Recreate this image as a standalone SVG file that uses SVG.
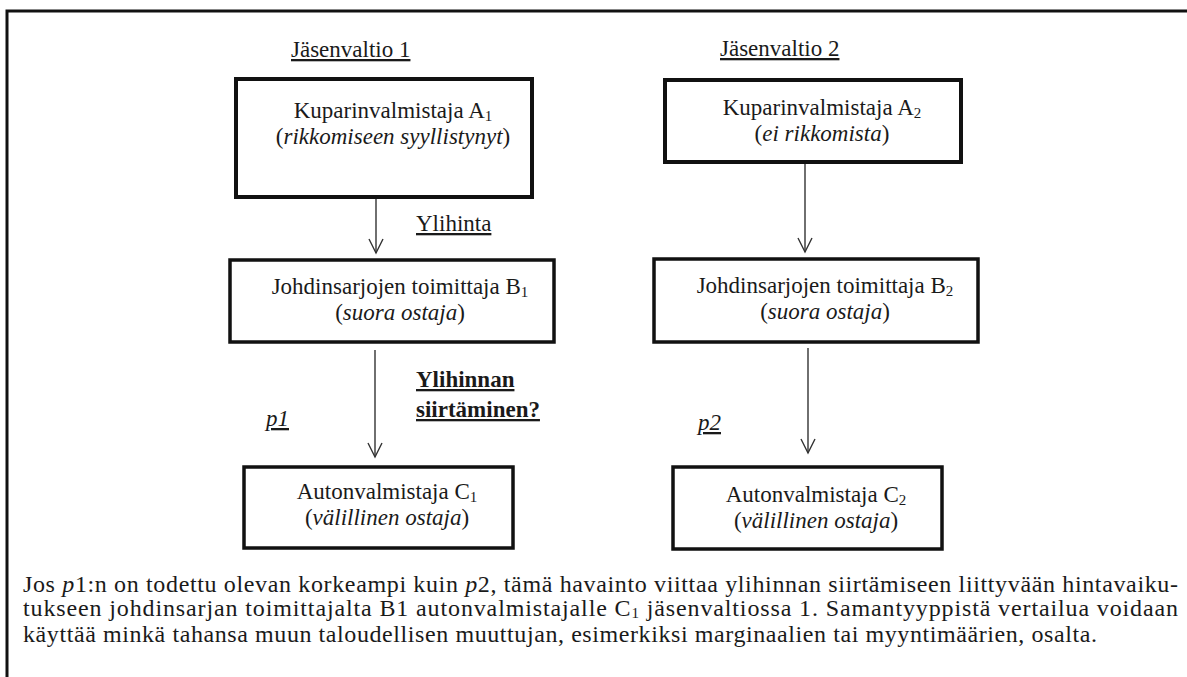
<svg xmlns="http://www.w3.org/2000/svg" width="1187" height="677" viewBox="0 0 1187 677" font-family="'Liberation Serif', 'DejaVu Serif', serif">
<defs>
<style>
text{font-family:'Liberation Serif','DejaVu Serif',serif;fill:#1a1a1a;font-size:23px}
.c{text-anchor:middle}
.it{font-style:italic}
.u{text-decoration:underline}
.b{font-weight:bold}
.sub{font-size:15px}
.cap{font-size:24px}
.box{fill:#fff;stroke:#111;stroke-width:4}
.box2{fill:#fff;stroke:#111;stroke-width:3.5}
.frame{fill:none;stroke:#111;stroke-width:3}
.conn{stroke:#333;stroke-width:1.4;fill:none;marker-end:url(#arr)}
</style>
<marker id="arr" viewBox="-16 -9 18 18" refX="0" refY="0" markerWidth="18" markerHeight="18" markerUnits="userSpaceOnUse" orient="auto">
<path d="M-14,-7 L0,0 L-14,7" fill="none" stroke="#333" stroke-width="1.4"/>
</marker>
</defs>
<rect class="frame" x="7" y="11" width="1200" height="700"/>

<text class="u" x="291" y="57">Jäsenvaltio 1</text>
<text class="u" x="720" y="56">Jäsenvaltio 2</text>

<g id="connectors">
<line class="conn" x1="376" y1="163" x2="376" y2="253"/>
<line class="conn" x1="805" y1="163" x2="805" y2="252"/>
<line class="conn" x1="375" y1="350" x2="375" y2="457"/>
<line class="conn" x1="808" y1="348" x2="808" y2="453"/>
</g>

<g id="nodeA1">
<rect class="box" x="236" y="79" width="296" height="118"/>
<text class="c" x="393" y="118">Kuparinvalmistaja A<tspan class="sub" dy="3">1</tspan></text>
<text class="c" x="393" y="144">(<tspan class="it">rikkomiseen syyllistynyt</tspan>)</text>
</g>
<g id="nodeA2">
<rect class="box" x="665" y="80" width="296" height="82"/>
<text class="c" x="822" y="115">Kuparinvalmistaja A<tspan class="sub" dy="3">2</tspan></text>
<text class="c" x="822" y="141">(<tspan class="it">ei rikkomista</tspan>)</text>
</g>
<g id="nodeB1">
<rect class="box2" x="230" y="260" width="324" height="82"/>
<text class="c" x="400" y="294">Johdinsarjojen toimittaja B<tspan class="sub" dy="3">1</tspan></text>
<text class="c" x="400" y="320">(<tspan class="it">suora ostaja</tspan>)</text>
</g>
<g id="nodeB2">
<rect class="box2" x="654" y="259" width="324" height="83"/>
<text class="c" x="825" y="293">Johdinsarjojen toimittaja B<tspan class="sub" dy="3">2</tspan></text>
<text class="c" x="825" y="319">(<tspan class="it">suora ostaja</tspan>)</text>
</g>
<g id="nodeC1">
<rect class="box2" x="244" y="467" width="269" height="81"/>
<text class="c" x="387" y="499">Autonvalmistaja C<tspan class="sub" dy="3">1</tspan></text>
<text class="c" x="387" y="525">(<tspan class="it">välillinen ostaja</tspan>)</text>
</g>
<g id="nodeC2">
<rect class="box2" x="673" y="467" width="269" height="82"/>
<text class="c" x="816" y="502">Autonvalmistaja C<tspan class="sub" dy="3">2</tspan></text>
<text class="c" x="816" y="528">(<tspan class="it">välillinen ostaja</tspan>)</text>
</g>

<g id="labels">
<text class="u" x="416" y="231">Ylihinta</text>
<text class="u b" x="416" y="387">Ylihinnan</text>
<text class="u b" x="416" y="417">siirtäminen?</text>
<text class="u it" x="266" y="426">p1</text>
<text class="u it" x="698" y="430">p2</text>
</g>

<g id="caption">
<text class="cap" x="23" y="592" textLength="1155" lengthAdjust="spacing">Jos <tspan class="it">p</tspan>1:n on todettu olevan korkeampi kuin <tspan class="it">p</tspan>2, tämä havainto viittaa ylihinnan siirtämiseen liittyvään hintavaiku-</text>
<text class="cap" x="23" y="616" textLength="1155" lengthAdjust="spacing">tukseen johdinsarjan toimittajalta B1 autonvalmistajalle C<tspan class="sub" dy="2">1</tspan><tspan dy="-2"> jäsenvaltiossa 1. Samantyyppistä vertailua voidaan</tspan></text>
<text class="cap" x="23" y="642" textLength="1074" lengthAdjust="spacing">käyttää minkä tahansa muun taloudellisen muuttujan, esimerkiksi marginaalien tai myyntimäärien, osalta.</text>
</g>
</svg>
